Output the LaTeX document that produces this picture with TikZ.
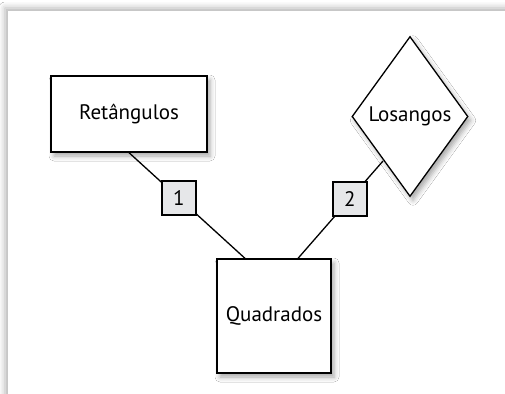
\documentclass[tikz,border=0pt]{standalone}
\usepackage{fontspec}
\setmainfont{PT Sans}
\usetikzlibrary{shapes.geometric,shadows.blur}
\definecolor{taggray}{HTML}{E6E7E9}
\begin{document}
\begin{tikzpicture}[x=1pt,y=-1pt,
    every node/.style={font=\fontsize{21}{25}\selectfont, inner sep=0pt},
    softshadow/.style={blur shadow={shadow xshift=3pt, shadow yshift=-4pt,
        shadow blur radius=5pt, shadow opacity=35}},
    entity/.style={draw, line width=1.3pt, fill=white, softshadow},
    tag/.style={draw, line width=1.3pt, fill=taggray, minimum size=34pt}]
    % page
    \useasboundingbox (0,0) rectangle (505,393);
    \fill[white] (0,0) rectangle (505,393);
    \fill[white, blur shadow={shadow xshift=-3pt, shadow yshift=3pt,
        shadow blur radius=6pt, shadow opacity=30}] (8,11) rectangle (540,430);

    % shapes
    \node[entity, rectangle, minimum width=156pt, minimum height=76pt] (ret) at (129,114) {Retângulos};
    \node[entity, diamond, minimum width=116pt, minimum height=160pt] (los) at (410,116.5) {Losangos};
    \node[entity, rectangle, minimum size=114pt] (quad) at (274,316) {Quadrados};

    % ends of the links
    \coordinate (qa) at ([xshift=-29pt]quad.north);
    \coordinate (qb) at ([xshift=24pt]quad.north);
    \coordinate (lb) at (383,161);

    % links
    \draw[line width=1.3pt] (ret.south) -- node[tag, pos=0.43] (t1) {1} (qa);
    \draw[line width=1.3pt] (qb) -- node[tag, pos=0.61] (t2) {2} (lb);
\end{tikzpicture}
\end{document}
